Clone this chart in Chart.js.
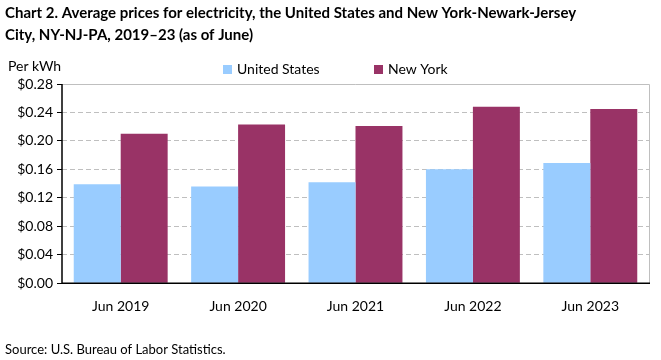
<!DOCTYPE html>
<html>
<head>
<meta charset="utf-8">
<script src="https://cdn.jsdelivr.net/npm/chart.js@4/dist/chart.umd.min.js"></script>
<style>
  html, body { margin: 0; padding: 0; background: #fff; }
  #wrap { width: 661px; height: 360px; position: relative; }
</style>
</head>
<body>
<div id="wrap"><canvas id="chart"></canvas></div>
<script>
const categories = ["Jun 2019", "Jun 2020", "Jun 2021", "Jun 2022", "Jun 2023"];
const unitedStates = [0.139, 0.136, 0.142, 0.160, 0.169];
const newYork = [0.210, 0.223, 0.221, 0.248, 0.245];
const seriesNames = ["United States", "New York"];
const yTicks = [0, 0.04, 0.08, 0.12, 0.16, 0.20, 0.24, 0.28];

const titleLines = [
  "Chart 2. Average prices for electricity, the United States and New York-Newark-Jersey",
  "City, NY-NJ-PA, 2019\u201323 (as of June)",
];
const unitLabel = "Per kWh";
const sourceNote = "Source: U.S. Bureau of Labor Statistics.";

const FONT = "Lato, 'Open Sans', sans-serif";

// draws title, unit label, legend, source, the plot frame and the axis lines
const decorations = {
  id: "decorations",
  afterDraw(chart) {
    const { ctx, chartArea } = chart;
    ctx.save();

    // frame (top/right, grey)
    ctx.strokeStyle = "#bfbfbf";
    ctx.lineWidth = 1;
    ctx.setLineDash([]);
    ctx.beginPath();
    ctx.moveTo(chartArea.left, chartArea.top + 0.5);
    ctx.lineTo(chartArea.right + 0.5, chartArea.top + 0.5);
    ctx.lineTo(chartArea.right + 0.5, chartArea.bottom);
    ctx.stroke();

    // axes (left/bottom, black)
    ctx.strokeStyle = "#000";
    ctx.lineWidth = 1.5;
    ctx.beginPath();
    ctx.moveTo(chartArea.left, chartArea.top);
    ctx.lineTo(chartArea.left, chartArea.bottom);
    ctx.lineTo(chartArea.right + 1, chartArea.bottom);
    ctx.stroke();

    ctx.fillStyle = "#000";
    ctx.textBaseline = "middle";
    ctx.textAlign = "left";
    ctx.font = `bold 15px ${FONT}`;
    ctx.fillText(titleLines[0], 5, 13);
    ctx.fillText(titleLines[1], 5, 35);

    ctx.font = `14px ${FONT}`;
    ctx.fillText(unitLabel, 8, 66);

    // legend
    const legendX = [223, 374];
    chart.data.datasets.forEach((ds, i) => {
      ctx.fillStyle = ds.backgroundColor;
      ctx.fillRect(legendX[i], 65, 9, 9);
      ctx.fillStyle = "#000";
      ctx.fillText(ds.label, legendX[i] + 14, 69);
    });

    ctx.font = `13px ${FONT}`;
    ctx.fillText(sourceNote, 5, 350);
    ctx.restore();
  },
};

new Chart(document.getElementById("chart"), {
  type: "bar",
  data: {
    labels: categories,
    datasets: [
      {
        label: seriesNames[0],
        data: unitedStates,
        backgroundColor: "#99ccff",
        barPercentage: 1,
        categoryPercentage: 0.8,
      },
      {
        label: seriesNames[1],
        data: newYork,
        backgroundColor: "#993366",
        barPercentage: 1,
        categoryPercentage: 0.8,
      },
    ],
  },
  options: {
    responsive: true,
    maintainAspectRatio: false,
    animation: false,
    layout: { padding: { top: 84, right: 12, bottom: 30, left: 0 } },
    plugins: {
      legend: { display: false },
      title: { display: false },
      tooltip: { enabled: false },
    },
    scales: {
      x: {
        grid: { display: false, drawTicks: false },
        border: { display: false },
        ticks: { color: "#000", font: { family: FONT, size: 14 }, padding: 15 },
      },
      y: {
        min: 0,
        max: 0.28,
        afterFit: (scale) => { scale.width = 62; },
        afterBuildTicks: (scale) => { scale.ticks = yTicks.map((v) => ({ value: v })); },
        grid: {
          color: "#bfbfbf",
          tickColor: "#000",
          tickLength: 5,
          lineWidth: 1,
        },
        border: { display: false, dash: [5, 3] },
        ticks: {
          color: "#000",
          font: { family: FONT, size: 14 },
          padding: 4,
          callback: (v) => "$" + Number(v).toFixed(2),
        },
      },
    },
  },
  plugins: [decorations],
});
</script>
</body>
</html>
